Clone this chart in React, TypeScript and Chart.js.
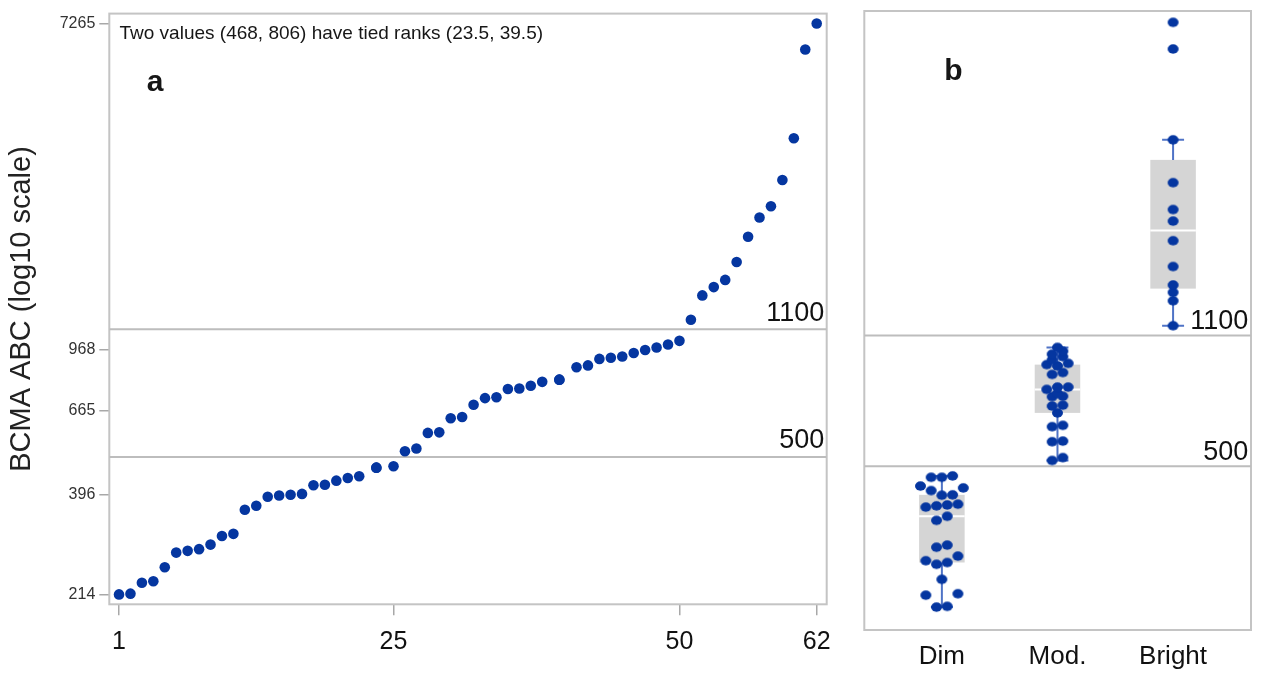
import React, { useEffect, useRef } from "react";
import { Chart, registerables } from "chart.js";

Chart.register(...registerables);

// ---------- data ----------
const abcValues = [
  214, 215, 230, 232, 253, 277, 280, 283, 291, 307,
  311, 361, 370, 391, 394, 396, 398, 420, 421, 432,
  439, 444, 468, 468, 472, 518, 527, 580, 582, 635,
  640, 690, 719, 723, 761, 763, 776, 795, 806, 806,
  870, 880, 916, 923, 930, 950, 968, 983, 1001, 1024,
  1167, 1356, 1427, 1492, 1667, 1948, 2193, 2351, 2764, 3578,
  6189, 7265,
];
const cutoffs = [500, 1100];
const yTickValues = [214, 396, 665, 968, 7265];
const xTickValues = [1, 25, 50, 62];
const groupLabels = ["Dim", "Mod.", "Bright"];
// horizontal jitter slots (in dot widths) for the strip plot, in sorted order
const dimJitter = [
  -0.5, 0.5, -1.5, 1.5, 0, -0.5, 0.5, -1.5, 1.5, -0.5,
  0.5, -0.5, 0.5, -1.5, -0.5, 0.5, 1.5, 0, 1, -1,
  2, -2, -1, 0, 1,
];
const modJitter = [
  -0.5, 0.5, -0.5, 0.5, -0.5, 0.5, 0, -0.5, 0.5, -0.5,
  0.5, 0, -1, 0, 1, -0.5, 0.5, 0, -1, 1,
  -0.5, 0.5, -0.5, 0.5, 0,
];
const brightJitter = [0, 0, 0, 0, 0, 0, 0, 0, 0, 0, 0, 0];
const noteText = "Two values (468, 806) have tied ranks (23.5, 39.5)";
const yTitle = "BCMA ABC (log10 scale)";

// ---------- styles ----------
const FONT = "'Liberation Sans', Arial, sans-serif";
const DOT = "#0536a0";
const FRAME = "#c4c4c4";
const REFLINE = "#bdbdbd";
const TICKMARK = "#a8a8a8";
const BOXFILL = "#d5d5d5";
const WHISKER = "#4f73c6";

// ---------- helpers ----------
function averageRanks(vals: number[]): number[] {
  const idx = vals.map((_, i) => i).sort((a, b) => vals[a] - vals[b]);
  const r: number[] = new Array(vals.length);
  let i = 0;
  while (i < idx.length) {
    let j = i;
    while (j + 1 < idx.length && vals[idx[j + 1]] === vals[idx[i]]) j++;
    const avg = (i + j) / 2 + 1;
    for (let k = i; k <= j; k++) r[idx[k]] = avg;
    i = j + 1;
  }
  return r;
}

function quantile(sorted: number[], p: number): number {
  const np = sorted.length * p;
  const j = Math.floor(np);
  if (np - j === 0) return (sorted[j - 1] + sorted[j]) / 2;
  return sorted[j];
}

function boxStats(vals: number[]) {
  const s = [...vals].sort((a, b) => a - b);
  const q1 = quantile(s, 0.25);
  const med = quantile(s, 0.5);
  const q3 = quantile(s, 0.75);
  const iqr = q3 - q1;
  const lo = s.filter((v) => v >= q1 - 1.5 * iqr)[0];
  const hiArr = s.filter((v) => v <= q3 + 1.5 * iqr);
  const hi = hiArr[hiArr.length - 1];
  return { q1, med, q3, lo, hi };
}

const sortedValues = [...abcValues].sort((a, b) => a - b);
const groups = [
  sortedValues.filter((v) => v < cutoffs[0]),
  sortedValues.filter((v) => v >= cutoffs[0] && v <= cutoffs[1]),
  sortedValues.filter((v) => v > cutoffs[1]),
];
const jitters = [dimJitter, modJitter, brightJitter];

function ellipseMarker(w: number, h: number, color: string): HTMLCanvasElement {
  const c = document.createElement("canvas");
  c.width = Math.ceil(w) + 2;
  c.height = Math.ceil(h) + 2;
  const ctx = c.getContext("2d") as CanvasRenderingContext2D;
  ctx.fillStyle = color;
  ctx.beginPath();
  ctx.ellipse(c.width / 2, c.height / 2, w / 2, h / 2, 0, 0, Math.PI * 2);
  ctx.fill();
  return c;
}

// ---------- plugins ----------
const framePlugin = {
  id: "frame",
  beforeDatasetsDraw(chart: any) {
    const { ctx, chartArea: a } = chart;
    ctx.save();
    ctx.strokeStyle = FRAME;
    ctx.lineWidth = 2;
    ctx.strokeRect(a.left, a.top, a.right - a.left, a.bottom - a.top);
    ctx.restore();
  },
};

function cutoffLabelPlugin(gap: number, inset: number) {
  return {
    id: "cutoffLabels",
    afterDatasetsDraw(chart: any) {
      const { ctx, chartArea: a, scales } = chart;
      ctx.save();
      ctx.font = `27px ${FONT}`;
      ctx.fillStyle = "#111";
      ctx.textAlign = "right";
      ctx.textBaseline = "alphabetic";
      cutoffs.forEach((c) => {
        const y = scales.y.getPixelForValue(c);
        ctx.fillText(String(c), a.right - inset, y - gap);
      });
      ctx.restore();
    },
  };
}

function textPlugin(items: { text: string; dx: number; dy: number; font: string }[]) {
  return {
    id: "panelText",
    afterDraw(chart: any) {
      const { ctx, chartArea: a } = chart;
      ctx.save();
      ctx.fillStyle = "#161616";
      ctx.textAlign = "left";
      ctx.textBaseline = "alphabetic";
      items.forEach((it) => {
        ctx.font = it.font;
        ctx.fillText(it.text, a.left + it.dx, a.top + it.dy);
      });
      ctx.restore();
    },
  };
}

const BOX_HALF = 0.197;
const CAP_HALF = 0.095;
const SLOT = 0.0925;

const boxPlugin = {
  id: "boxes",
  beforeDatasetsDraw(chart: any) {
    const { ctx, scales } = chart;
    const xs = scales.x;
    const ys = scales.y;
    ctx.save();
    groups.forEach((g, gi) => {
      const c = gi + 1;
      const st = boxStats(g);
      const xl = xs.getPixelForValue(c - BOX_HALF);
      const xr = xs.getPixelForValue(c + BOX_HALF);
      const xc = xs.getPixelForValue(c);
      const yq1 = ys.getPixelForValue(st.q1);
      const yq3 = ys.getPixelForValue(st.q3);
      ctx.fillStyle = BOXFILL;
      ctx.fillRect(xl, yq3, xr - xl, yq1 - yq3);
      const ym = ys.getPixelForValue(st.med);
      ctx.strokeStyle = "#ffffff";
      ctx.lineWidth = 2;
      ctx.beginPath();
      ctx.moveTo(xl, ym);
      ctx.lineTo(xr, ym);
      ctx.stroke();
      const ylo = ys.getPixelForValue(st.lo);
      const yhi = ys.getPixelForValue(st.hi);
      ctx.strokeStyle = WHISKER;
      ctx.lineWidth = 2;
      ctx.beginPath();
      ctx.moveTo(xc, yq3);
      ctx.lineTo(xc, yhi);
      ctx.moveTo(xc, yq1);
      ctx.lineTo(xc, ylo);
      const cl = xs.getPixelForValue(c - CAP_HALF);
      const cr = xs.getPixelForValue(c + CAP_HALF);
      ctx.moveTo(cl, yhi);
      ctx.lineTo(cr, yhi);
      ctx.moveTo(cl, ylo);
      ctx.lineTo(cr, ylo);
      ctx.stroke();
    });
    ctx.restore();
  },
};

// ---------- component ----------
export default function App() {
  const refA = useRef<HTMLCanvasElement>(null);
  const refB = useRef<HTMLCanvasElement>(null);

  useEffect(() => {
    const ranks = averageRanks(abcValues);
    const XA_MIN = 0.15;
    const XA_MAX = 62.874;
    const chartA = new Chart(refA.current as HTMLCanvasElement, {
      type: "scatter",
      data: {
        datasets: [
          {
            data: abcValues.map((v, i) => ({ x: ranks[i], y: v })),
            backgroundColor: DOT,
            borderWidth: 0,
            pointRadius: 5.3,
            pointHoverRadius: 5.3,
            order: 1,
          } as any,
          ...cutoffs.map((c) => ({
            data: [
              { x: XA_MIN, y: c },
              { x: XA_MAX, y: c },
            ],
            showLine: true,
            borderColor: REFLINE,
            borderWidth: 2,
            pointRadius: 0,
            order: 2,
          })),
        ],
      },
      options: {
        animation: false,
        responsive: false,
        maintainAspectRatio: false,
        layout: { padding: { left: 0, right: 845 - 826.7, top: 9.3, bottom: 0 } },
        plugins: { legend: { display: false }, tooltip: { enabled: false } },
        scales: {
          x: {
            type: "linear",
            min: XA_MIN,
            max: XA_MAX,
            afterBuildTicks: (s: any) => {
              s.ticks = xTickValues.map((v) => ({ value: v }));
            },
            afterFit: (s: any) => {
              s.height = 673 - 604.3;
            },
            ticks: {
              font: { family: FONT, size: 25 },
              color: "#111",
              padding: 12,
              maxRotation: 0,
              autoSkip: false,
              callback: (v: any) => String(v),
            },
            grid: { display: true, drawOnChartArea: false, drawTicks: true, tickLength: 11, color: TICKMARK, lineWidth: 1.5 },
            border: { display: false },
          },
          y: {
            type: "logarithmic",
            min: 201.3,
            max: 7725,
            afterBuildTicks: (s: any) => {
              s.ticks = yTickValues.map((v) => ({ value: v }));
            },
            afterFit: (s: any) => {
              s.width = 109.3;
            },
            ticks: {
              font: { family: FONT, size: 16 },
              color: "#333",
              padding: 4,
              autoSkip: false,
              callback: (v: any) => String(v),
            },
            grid: { display: true, drawOnChartArea: false, drawTicks: true, tickLength: 10, color: TICKMARK, lineWidth: 1.5 },
            border: { display: false },
            title: {
              display: true,
              text: yTitle,
              font: { family: FONT, size: 29 },
              color: "#222",
              padding: { top: 5, bottom: 0 },
            },
          },
        },
      } as any,
      plugins: [
        framePlugin,
        cutoffLabelPlugin(8.5, 2.4),
        textPlugin([
          { text: noteText, dx: 10.2, dy: 25.7, font: `19px ${FONT}` },
          { text: "a", dx: 37.4, dy: 77.4, font: `bold 30px ${FONT}` },
        ]),
      ],
    });

    const XB_MIN = 0.329;
    const XB_MAX = 3.674;
    const marker = ellipseMarker(11, 9.4, DOT);
    const chartB = new Chart(refB.current as HTMLCanvasElement, {
      type: "scatter",
      data: {
        datasets: [
          {
            data: groups.flatMap((g, gi) =>
              g.map((v, i) => ({ x: gi + 1 + jitters[gi][i] * SLOT, y: v }))
            ),
            backgroundColor: DOT,
            borderWidth: 0,
            pointStyle: marker,
            pointRadius: 5.5,
            pointHoverRadius: 5.5,
            order: 1,
          } as any,
          ...cutoffs.map((c) => ({
            data: [
              { x: XB_MIN, y: c },
              { x: XB_MAX, y: c },
            ],
            showLine: true,
            borderColor: REFLINE,
            borderWidth: 2,
            pointRadius: 0,
            order: 2,
          })),
        ],
      },
      options: {
        animation: false,
        responsive: false,
        maintainAspectRatio: false,
        layout: { padding: { left: 864.3 - 845, right: 1264 - 1251, top: 11, bottom: 0 } },
        plugins: { legend: { display: false }, tooltip: { enabled: false } },
        scales: {
          x: {
            type: "linear",
            min: XB_MIN,
            max: XB_MAX,
            afterBuildTicks: (s: any) => {
              s.ticks = groupLabels.map((_, i) => ({ value: i + 1 }));
            },
            afterFit: (s: any) => {
              s.height = 673 - 630;
            },
            ticks: {
              font: { family: FONT, size: 26 },
              color: "#111",
              padding: 11,
              maxRotation: 0,
              autoSkip: false,
              callback: (v: any) => groupLabels[Math.round(v) - 1] ?? "",
            },
            grid: { display: false, drawTicks: false },
            border: { display: false },
          },
          y: {
            type: "logarithmic",
            min: 186.4,
            max: 7780,
            display: false,
          },
        },
      } as any,
      plugins: [
        framePlugin,
        boxPlugin,
        cutoffLabelPlugin(6.7, 2.7),
        textPlugin([{ text: "b", dx: 80, dy: 69, font: `bold 30px ${FONT}` }]),
      ],
    });

    return () => {
      chartA.destroy();
      chartB.destroy();
    };
  }, []);

  return (
    <div style={{ position: "absolute", left: 0, top: 0, width: 1264, height: 673, background: "#ffffff" }}>
      <canvas ref={refA} width={845} height={673} style={{ position: "absolute", left: 0, top: 0, width: 845, height: 673 }} />
      <canvas ref={refB} width={419} height={673} style={{ position: "absolute", left: 845, top: 0, width: 419, height: 673 }} />
    </div>
  );
}
